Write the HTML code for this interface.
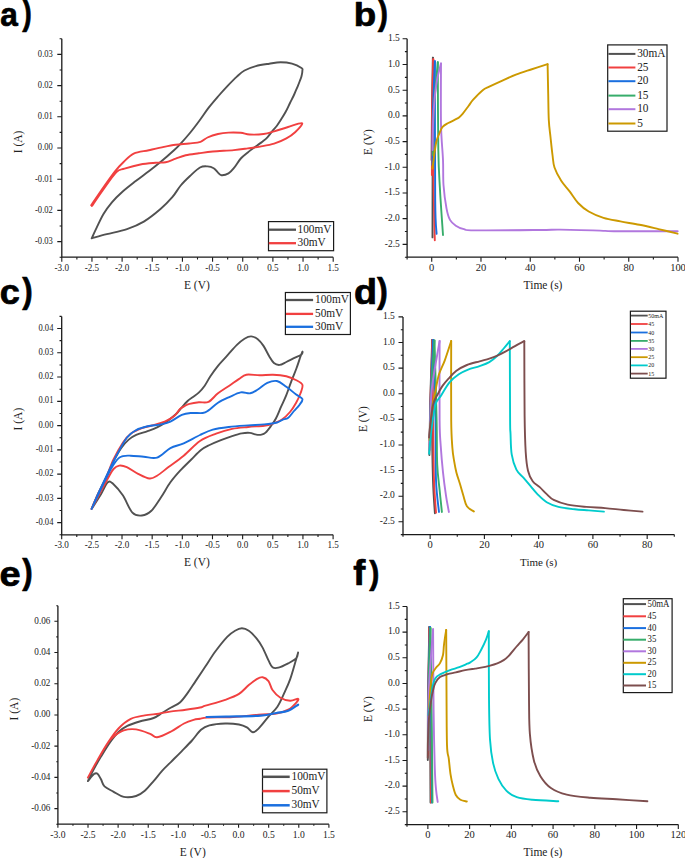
<!DOCTYPE html>
<html><head><meta charset="utf-8"><style>
html,body{margin:0;padding:0;background:#fff;width:685px;height:858px;overflow:hidden}
svg{display:block}
text{font-family:"Liberation Serif",serif;fill:#222}
.pl{font-family:"Liberation Sans",sans-serif;font-weight:bold;fill:#000;stroke:#000;stroke-width:0.7px;stroke-linejoin:round}
</style></head><body>
<svg width="685" height="858" viewBox="0 0 685 858">
<text class="pl" transform="translate(0.33 25.64) scale(0.929 1)" font-size="34">a</text>
<text class="pl" transform="translate(22.22 25.25) scale(0.819 1)" font-size="34.76">)</text>
<text class="pl" transform="translate(353.72 25.65) scale(1.093 1)" font-size="33.65">b</text>
<text class="pl" transform="translate(377.72 25.18) scale(0.883 1)" font-size="34.66">)</text>
<text class="pl" transform="translate(-0.36 304.24) scale(1.040 1)" font-size="34.73">c</text>
<text class="pl" transform="translate(22.22 303.3) scale(0.906 1)" font-size="34.55">)</text>
<text class="pl" transform="translate(353.9 303.54) scale(1.100 1)" font-size="34.33">d</text>
<text class="pl" transform="translate(377.12 302.76) scale(0.946 1)" font-size="34.23">)</text>
<text class="pl" transform="translate(-0.43 585.64) scale(1.093 1)" font-size="34.73">e</text>
<text class="pl" transform="translate(22.22 584.3) scale(0.906 1)" font-size="34.55">)</text>
<text class="pl" transform="translate(353.33 584.99) scale(1.026 1)" font-size="35.36">f</text>
<text class="pl" transform="translate(369.22 584.01) scale(0.889 1)" font-size="34.01">)</text>
<path d="M61.8,38.8V257.2H333.2" fill="none" stroke="#1a1a1a" stroke-width="1.3"/>
<path d="M61.8,257.2v4.5M76.88,257.2v2.2M91.96,257.2v4.5M107.03,257.2v2.2M122.11,257.2v4.5M137.19,257.2v2.2M152.27,257.2v4.5M167.34,257.2v2.2M182.42,257.2v4.5M197.5,257.2v2.2M212.58,257.2v4.5M227.66,257.2v2.2M242.73,257.2v4.5M257.81,257.2v2.2M272.89,257.2v4.5M287.97,257.2v2.2M303.04,257.2v4.5M318.12,257.2v2.2M333.2,257.2v4.5M61.8,257.2h-2.2M61.8,241.6h-4.5M61.8,226h-2.2M61.8,210.4h-4.5M61.8,194.8h-2.2M61.8,179.2h-4.5M61.8,163.6h-2.2M61.8,148h-4.5M61.8,132.4h-2.2M61.8,116.8h-4.5M61.8,101.2h-2.2M61.8,85.6h-4.5M61.8,70h-2.2M61.8,54.4h-4.5M61.8,38.8h-2.2" fill="none" stroke="#1a1a1a" stroke-width="1.1"/>
<text transform="translate(61.8 271) scale(0.96 1)" text-anchor="middle" font-size="9.5">-3.0</text>
<text transform="translate(91.96 271) scale(0.96 1)" text-anchor="middle" font-size="9.5">-2.5</text>
<text transform="translate(122.11 271) scale(0.96 1)" text-anchor="middle" font-size="9.5">-2.0</text>
<text transform="translate(152.27 271) scale(0.96 1)" text-anchor="middle" font-size="9.5">-1.5</text>
<text transform="translate(182.42 271) scale(0.96 1)" text-anchor="middle" font-size="9.5">-1.0</text>
<text transform="translate(212.58 271) scale(0.96 1)" text-anchor="middle" font-size="9.5">-0.5</text>
<text transform="translate(242.73 271) scale(0.96 1)" text-anchor="middle" font-size="9.5">0.0</text>
<text transform="translate(272.89 271) scale(0.96 1)" text-anchor="middle" font-size="9.5">0.5</text>
<text transform="translate(303.04 271) scale(0.96 1)" text-anchor="middle" font-size="9.5">1.0</text>
<text transform="translate(333.2 271) scale(0.96 1)" text-anchor="middle" font-size="9.5">1.5</text>
<text transform="translate(52.8 244) scale(0.9 1)" text-anchor="end" font-size="9.5">-0.03</text>
<text transform="translate(52.8 212.8) scale(0.9 1)" text-anchor="end" font-size="9.5">-0.02</text>
<text transform="translate(52.8 181.6) scale(0.9 1)" text-anchor="end" font-size="9.5">-0.01</text>
<text transform="translate(52.8 150.4) scale(0.9 1)" text-anchor="end" font-size="9.5">0.00</text>
<text transform="translate(52.8 119.2) scale(0.9 1)" text-anchor="end" font-size="9.5">0.01</text>
<text transform="translate(52.8 88) scale(0.9 1)" text-anchor="end" font-size="9.5">0.02</text>
<text transform="translate(52.8 56.8) scale(0.9 1)" text-anchor="end" font-size="9.5">0.03</text>
<text x="196.9" y="288.8" text-anchor="middle" font-size="11.5">E (V)</text>
<text transform="translate(22.3 142) rotate(-90)" text-anchor="middle" font-size="11.5">I (A)</text>
<path d="M91.7,238.3 C92.55,236.48 94.83,231.45 96.8,227.4 C98.77,223.35 100.98,218.18 103.5,214 C106.02,209.82 108.83,205.93 111.9,202.3 C114.97,198.67 117.98,195.7 121.9,192.2 C125.82,188.7 130.92,184.8 135.4,181.3 C139.88,177.8 144.62,174.42 148.8,171.2 C152.98,167.98 156.3,165.5 160.5,162 C164.7,158.5 170.75,153.15 174,150.2 C177.25,147.25 177.42,147.08 180,144.3 C182.58,141.52 186.33,137.35 189.5,133.5 C192.67,129.65 195.83,125.47 199,121.2 C202.17,116.93 205.33,112.02 208.5,107.9 C211.67,103.78 214.85,100.13 218,96.5 C221.15,92.87 224.25,89.42 227.4,86.1 C230.55,82.78 234.05,79.2 236.9,76.6 C239.75,74 241.33,72.25 244.5,70.5 C247.67,68.75 251.78,67.23 255.9,66.1 C260.02,64.97 265.08,64.33 269.2,63.7 C273.32,63.07 276.8,62.3 280.6,62.3 C284.4,62.3 288.52,62.75 292,63.7 C295.48,64.65 299.77,66.87 301.5,68 C303.23,69.13 302.4,69.12 302.4,70.5 C302.4,71.88 301.93,74.55 301.5,76.3 C301.07,78.05 300.38,79.45 299.8,81 C299.22,82.55 298.68,83.95 298,85.6 C297.32,87.25 296.45,89.17 295.7,90.9 C294.95,92.63 294.45,93.98 293.5,96 C292.55,98.02 291.3,100.37 290,103 C288.7,105.63 287.15,109.12 285.7,111.8 C284.25,114.48 282.77,116.78 281.3,119.1 C279.83,121.42 278.37,123.75 276.9,125.7 C275.43,127.65 274.08,128.87 272.5,130.8 C270.92,132.73 269.1,135.48 267.4,137.3 C265.7,139.12 264,140.35 262.3,141.7 C260.6,143.05 259.62,143.62 257.2,145.4 C254.78,147.18 250.53,150.22 247.8,152.4 C245.07,154.58 243.13,155.87 240.8,158.5 C238.47,161.13 235.85,165.72 233.8,168.2 C231.75,170.68 230.55,172.23 228.5,173.4 C226.45,174.57 223.25,175.33 221.5,175.2 C219.75,175.07 219.3,173.77 218,172.6 C216.7,171.43 215.45,169.23 213.7,168.2 C211.95,167.17 209.78,166.52 207.5,166.4 C205.22,166.28 202.92,165.9 200,167.5 C197.08,169.1 193.22,173 190,176 C186.78,179 183.65,181.97 180.7,185.5 C177.75,189.03 175.67,193.28 172.3,197.2 C168.93,201.12 165.25,204.93 160.5,209 C155.75,213.07 149.38,218.25 143.8,221.6 C138.22,224.95 133.17,227 127,229.1 C120.83,231.2 112.68,232.67 106.8,234.2 C100.92,235.73 94.22,237.62 91.7,238.3" fill="none" stroke="#515151" stroke-width="1.9" stroke-linejoin="round" stroke-linecap="round"/>
<path d="M91.2,205.3 C92.9,202.78 97.43,195.87 101.4,190.2 C105.37,184.53 111.3,176 115,171.3 C118.7,166.6 120.48,164.95 123.6,162 C126.72,159.05 129.5,155.57 133.7,153.6 C137.9,151.63 143.77,151.32 148.8,150.2 C153.83,149.08 159.42,147.8 163.9,146.9 C168.38,146 171.5,145.37 175.7,144.8 C179.9,144.23 184.97,143.98 189.1,143.5 C193.23,143.02 197.43,142.9 200.5,141.9 C203.57,140.9 204.58,138.82 207.5,137.5 C210.42,136.18 214.5,134.82 218,134 C221.5,133.18 224.7,132.8 228.5,132.6 C232.3,132.4 237.28,132.48 240.8,132.8 C244.32,133.12 245.8,134.3 249.6,134.5 C253.4,134.7 259.52,134.52 263.6,134 C267.68,133.48 270.02,132.57 274.1,131.4 C278.18,130.23 283.43,128.37 288.1,127 C292.77,125.63 300.93,122.32 302.1,123.2 C303.27,124.08 297.72,129.77 295.1,132.3 C292.48,134.83 289.9,136.5 286.4,138.4 C282.9,140.3 278.48,142.33 274.1,143.7 C269.72,145.07 264.48,145.82 260.1,146.6 C255.72,147.38 252.18,147.82 247.8,148.4 C243.42,148.98 239.63,149.58 233.8,150.1 C227.97,150.62 218.63,150.97 212.8,151.5 C206.97,152.03 203.32,152.67 198.8,153.3 C194.28,153.93 189.55,154.42 185.7,155.3 C181.85,156.18 179.05,157.43 175.7,158.6 C172.35,159.77 168.97,161.6 165.6,162.3 C162.23,163 159.7,162.43 155.5,162.8 C151.3,163.17 145.57,163.52 140.4,164.5 C135.23,165.48 128.5,167.43 124.5,168.7 C120.5,169.97 120.1,168.4 116.4,172.1 C112.7,175.8 106.38,185.25 102.3,190.9 C98.22,196.55 93.63,203.48 91.9,206" fill="none" stroke="#F14040" stroke-width="1.9" stroke-linejoin="round" stroke-linecap="round"/>
<rect x="268.5" y="221.6" width="65.1" height="29.1" fill="#fff" stroke="#1a1a1a" stroke-width="1.2"/>
<path d="M268.8,229.7H296" stroke="#515151" stroke-width="2.3"/>
<text transform="translate(297.5 232.8) scale(0.87 1)" font-size="13">100mV</text>
<path d="M268.8,243.2H296" stroke="#F14040" stroke-width="2.3"/>
<text transform="translate(297.5 246.3) scale(0.87 1)" font-size="13">30mV</text>
<path d="M407.1,38.8V257.2H678" fill="none" stroke="#1a1a1a" stroke-width="1.3"/>
<path d="M407.1,257.2v2.2M431.73,257.2v4.5M456.35,257.2v2.2M480.98,257.2v4.5M505.61,257.2v2.2M530.24,257.2v4.5M554.86,257.2v2.2M579.49,257.2v4.5M604.12,257.2v2.2M628.75,257.2v4.5M653.37,257.2v2.2M678,257.2v4.5M407.1,257.2h-2.2M407.1,244.35h-4.5M407.1,231.51h-2.2M407.1,218.66h-4.5M407.1,205.81h-2.2M407.1,192.96h-4.5M407.1,180.12h-2.2M407.1,167.27h-4.5M407.1,154.42h-2.2M407.1,141.58h-4.5M407.1,128.73h-2.2M407.1,115.88h-4.5M407.1,103.04h-2.2M407.1,90.19h-4.5M407.1,77.34h-2.2M407.1,64.49h-4.5M407.1,51.65h-2.2M407.1,38.8h-4.5" fill="none" stroke="#1a1a1a" stroke-width="1.1"/>
<text transform="translate(431.73 270.9) scale(1.05 1)" text-anchor="middle" font-size="10">0</text>
<text transform="translate(480.98 270.9) scale(1.05 1)" text-anchor="middle" font-size="10">20</text>
<text transform="translate(530.24 270.9) scale(1.05 1)" text-anchor="middle" font-size="10">40</text>
<text transform="translate(579.49 270.9) scale(1.05 1)" text-anchor="middle" font-size="10">60</text>
<text transform="translate(628.75 270.9) scale(1.05 1)" text-anchor="middle" font-size="10">80</text>
<text transform="translate(678 270.9) scale(1.05 1)" text-anchor="middle" font-size="10">100</text>
<text transform="translate(399.8 246.75) scale(0.95 1)" text-anchor="end" font-size="10">-2.5</text>
<text transform="translate(399.8 221.06) scale(0.95 1)" text-anchor="end" font-size="10">-2.0</text>
<text transform="translate(399.8 195.36) scale(0.95 1)" text-anchor="end" font-size="10">-1.5</text>
<text transform="translate(399.8 169.67) scale(0.95 1)" text-anchor="end" font-size="10">-1.0</text>
<text transform="translate(399.8 143.98) scale(0.95 1)" text-anchor="end" font-size="10">-0.5</text>
<text transform="translate(399.8 118.28) scale(0.95 1)" text-anchor="end" font-size="10">0.0</text>
<text transform="translate(399.8 92.59) scale(0.95 1)" text-anchor="end" font-size="10">0.5</text>
<text transform="translate(399.8 66.89) scale(0.95 1)" text-anchor="end" font-size="10">1.0</text>
<text transform="translate(399.8 41.2) scale(0.95 1)" text-anchor="end" font-size="10">1.5</text>
<text x="543" y="288.6" text-anchor="middle" font-size="11.5">Time (s)</text>
<text transform="translate(372.3 142) rotate(-90)" text-anchor="middle" font-size="11.5">E (V)</text>
<path d="M431.6,160 C431.67,151.67 431.78,127.07 432,110 C432.22,92.93 432.75,66.33 432.9,57.6" fill="none" stroke="#515151" stroke-width="1.9" stroke-linejoin="round" stroke-linecap="round"/>
<path d="M432.9,57.6 C432.85,76.33 432.67,140.03 432.6,170 C432.53,199.97 432.52,226.17 432.5,237.4" fill="none" stroke="#515151" stroke-width="1.9" stroke-linejoin="round" stroke-linecap="round"/>
<path d="M431.9,175 C431.93,164.17 431.87,129.32 432.1,110 C432.33,90.68 433.1,67.58 433.3,59.1" fill="none" stroke="#F14040" stroke-width="1.9" stroke-linejoin="round" stroke-linecap="round"/>
<path d="M433.3,59.1 C433.32,77.58 433.15,139.8 433.4,170 C433.65,200.2 434.57,228.58 434.8,240.3" fill="none" stroke="#F14040" stroke-width="1.9" stroke-linejoin="round" stroke-linecap="round"/>
<path d="M432.4,165 C432.5,155.83 432.58,127.32 433,110 C433.42,92.68 434.58,69.25 434.9,61.1" fill="none" stroke="#1A6FDF" stroke-width="1.9" stroke-linejoin="round" stroke-linecap="round"/>
<path d="M434.9,61.1 C434.95,84.25 434.92,171.2 435.2,200 C435.48,228.8 436.37,228.25 436.6,233.9" fill="none" stroke="#1A6FDF" stroke-width="1.9" stroke-linejoin="round" stroke-linecap="round"/>
<path d="M432.8,155 C432.97,147.5 432.97,125.45 433.8,110 C434.63,94.55 437.13,70.25 437.8,62.3" fill="none" stroke="#37AD6B" stroke-width="1.9" stroke-linejoin="round" stroke-linecap="round"/>
<path d="M437.8,62.3 C437.88,76.92 437.93,128.72 438.3,150 C438.67,171.28 439.22,175.83 440,190 C440.78,204.17 442.5,227.5 443,235" fill="none" stroke="#37AD6B" stroke-width="1.9" stroke-linejoin="round" stroke-linecap="round"/>
<path d="M432.6,150 C432.7,145 432.88,128.33 433.2,120 C433.52,111.67 433.87,106.67 434.5,100 C435.13,93.33 435.92,86.08 437,80 C438.08,73.92 440.33,66.25 441,63.5" fill="none" stroke="#B177DE" stroke-width="1.9" stroke-linejoin="round" stroke-linecap="round"/>
<path d="M441,63.5 C441,73.65 440.67,108.32 441,124.4 C441.33,140.48 442.58,149.9 443,160 C443.42,170.1 442.92,176.95 443.5,185 C444.08,193.05 445.42,202.48 446.5,208.3 C447.58,214.12 448.45,217 450,219.9 C451.55,222.8 453.48,224.15 455.8,225.7 C458.12,227.25 460.7,228.42 463.9,229.2 C467.1,229.98 462.32,230.27 475,230.4 C487.68,230.53 525.83,230.13 540,230 C554.17,229.87 550,229.5 560,229.6 C570,229.7 591,230.33 600,230.6 C609,230.87 601.05,231.1 614,231.2 C626.95,231.3 667.08,231.2 677.7,231.2" fill="none" stroke="#B177DE" stroke-width="1.9" stroke-linejoin="round" stroke-linecap="round"/>
<path d="M432.5,168.6 C432.68,167.17 432.98,164.38 433.6,160 C434.22,155.62 435.23,146.75 436.2,142.3 C437.17,137.85 438.33,135.87 439.4,133.3 C440.47,130.73 441.12,128.62 442.6,126.9 C444.08,125.18 446.07,124.28 448.3,123 C450.53,121.72 454.22,120.13 456,119.2 C457.78,118.27 457.87,118.33 459,117.4 C460.13,116.47 461.22,115.5 462.8,113.6 C464.38,111.7 466.77,108.32 468.5,106 C470.23,103.68 470.83,102.33 473.2,99.7 C475.57,97.07 480.02,92.38 482.7,90.2 C485.38,88.02 486.3,88.08 489.3,86.6 C492.3,85.12 496.27,83.28 500.7,81.3 C505.13,79.32 510.83,76.67 515.9,74.7 C520.97,72.73 525.82,71.25 531.1,69.5 C536.38,67.75 544.85,65.08 547.6,64.2" fill="none" stroke="#CC9900" stroke-width="1.9" stroke-linejoin="round" stroke-linecap="round"/>
<path d="M547.6,64.2 C547.7,69.12 548,84.4 548.2,93.7 C548.4,103 548.42,112.78 548.8,120 C549.18,127.22 549.88,131.17 550.5,137 C551.12,142.83 551.83,149.92 552.5,155 C553.17,160.08 553.05,163.2 554.5,167.5 C555.95,171.8 558.68,176.82 561.2,180.8 C563.72,184.78 566.78,187.7 569.6,191.4 C572.42,195.1 574.92,199.65 578.1,203 C581.28,206.35 584.47,209.03 588.7,211.5 C592.93,213.97 598.22,216.15 603.5,217.8 C608.78,219.45 614.4,220.23 620.4,221.4 C626.4,222.57 633.15,223.52 639.5,224.8 C645.85,226.08 652.15,227.62 658.5,229.1 C664.85,230.58 674.42,232.93 677.6,233.7" fill="none" stroke="#CC9900" stroke-width="1.9" stroke-linejoin="round" stroke-linecap="round"/>
<rect x="607.7" y="44.9" width="59.3" height="86.3" fill="#fff" stroke="#1a1a1a" stroke-width="1.2"/>
<path d="M608.4,53.9H635.4" stroke="#515151" stroke-width="2"/>
<text transform="translate(637.2 57.1) scale(0.87 1)" font-size="13">30mA</text>
<path d="M608.4,67.5H635.4" stroke="#F14040" stroke-width="2"/>
<text transform="translate(637.2 70.7) scale(0.87 1)" font-size="13">25</text>
<path d="M608.4,81.2H635.4" stroke="#1A6FDF" stroke-width="2"/>
<text transform="translate(637.2 84.4) scale(0.87 1)" font-size="13">20</text>
<path d="M608.4,95.6H635.4" stroke="#37AD6B" stroke-width="2"/>
<text transform="translate(637.2 98.8) scale(0.87 1)" font-size="13">15</text>
<path d="M608.4,109.2H635.4" stroke="#B177DE" stroke-width="2"/>
<text transform="translate(637.2 112.4) scale(0.87 1)" font-size="13">10</text>
<path d="M608.4,123.5H635.4" stroke="#CC9900" stroke-width="2"/>
<text transform="translate(637.2 126.7) scale(0.87 1)" font-size="13">5</text>
<path d="M61.7,316.4V534.8H333.1" fill="none" stroke="#1a1a1a" stroke-width="1.3"/>
<path d="M61.7,534.8v4.5M76.78,534.8v2.2M91.86,534.8v4.5M106.93,534.8v2.2M122.01,534.8v4.5M137.09,534.8v2.2M152.17,534.8v4.5M167.24,534.8v2.2M182.32,534.8v4.5M197.4,534.8v2.2M212.48,534.8v4.5M227.56,534.8v2.2M242.63,534.8v4.5M257.71,534.8v2.2M272.79,534.8v4.5M287.87,534.8v2.2M302.94,534.8v4.5M318.02,534.8v2.2M333.1,534.8v4.5M61.7,534.8h-2.2M61.7,522.67h-4.5M61.7,510.53h-2.2M61.7,498.4h-4.5M61.7,486.27h-2.2M61.7,474.13h-4.5M61.7,462h-2.2M61.7,449.87h-4.5M61.7,437.73h-2.2M61.7,425.6h-4.5M61.7,413.47h-2.2M61.7,401.33h-4.5M61.7,389.2h-2.2M61.7,377.07h-4.5M61.7,364.93h-2.2M61.7,352.8h-4.5M61.7,340.67h-2.2M61.7,328.53h-4.5M61.7,316.4h-2.2" fill="none" stroke="#1a1a1a" stroke-width="1.1"/>
<text transform="translate(61.7 548.3) scale(0.96 1)" text-anchor="middle" font-size="9.5">-3.0</text>
<text transform="translate(91.86 548.3) scale(0.96 1)" text-anchor="middle" font-size="9.5">-2.5</text>
<text transform="translate(122.01 548.3) scale(0.96 1)" text-anchor="middle" font-size="9.5">-2.0</text>
<text transform="translate(152.17 548.3) scale(0.96 1)" text-anchor="middle" font-size="9.5">-1.5</text>
<text transform="translate(182.32 548.3) scale(0.96 1)" text-anchor="middle" font-size="9.5">-1.0</text>
<text transform="translate(212.48 548.3) scale(0.96 1)" text-anchor="middle" font-size="9.5">-0.5</text>
<text transform="translate(242.63 548.3) scale(0.96 1)" text-anchor="middle" font-size="9.5">0.0</text>
<text transform="translate(272.79 548.3) scale(0.96 1)" text-anchor="middle" font-size="9.5">0.5</text>
<text transform="translate(302.94 548.3) scale(0.96 1)" text-anchor="middle" font-size="9.5">1.0</text>
<text transform="translate(333.1 548.3) scale(0.96 1)" text-anchor="middle" font-size="9.5">1.5</text>
<text transform="translate(53.4 524.77) scale(0.9 1)" text-anchor="end" font-size="9.5">-0.04</text>
<text transform="translate(53.4 500.5) scale(0.9 1)" text-anchor="end" font-size="9.5">-0.03</text>
<text transform="translate(53.4 476.23) scale(0.9 1)" text-anchor="end" font-size="9.5">-0.02</text>
<text transform="translate(53.4 451.97) scale(0.9 1)" text-anchor="end" font-size="9.5">-0.01</text>
<text transform="translate(53.4 427.7) scale(0.9 1)" text-anchor="end" font-size="9.5">0.00</text>
<text transform="translate(53.4 403.43) scale(0.9 1)" text-anchor="end" font-size="9.5">0.01</text>
<text transform="translate(53.4 379.17) scale(0.9 1)" text-anchor="end" font-size="9.5">0.02</text>
<text transform="translate(53.4 354.9) scale(0.9 1)" text-anchor="end" font-size="9.5">0.03</text>
<text transform="translate(53.4 330.63) scale(0.9 1)" text-anchor="end" font-size="9.5">0.04</text>
<text x="196.9" y="566" text-anchor="middle" font-size="11.5">E (V)</text>
<text transform="translate(22 419.1) rotate(-90)" text-anchor="middle" font-size="11.5">I (A)</text>
<path d="M91.6,508.9 C92.72,506.37 95.92,498.77 98.3,493.7 C100.68,488.63 103.37,483.88 105.9,478.5 C108.43,473.12 110.97,466.47 113.5,461.4 C116.03,456.33 118.57,451.73 121.1,448.1 C123.63,444.47 126.18,441.8 128.7,439.6 C131.22,437.4 133.05,436.32 136.2,434.9 C139.35,433.48 144.12,432.37 147.6,431.1 C151.08,429.83 153.93,428.88 157.1,427.3 C160.27,425.72 163.43,423.82 166.6,421.6 C169.77,419.38 173.87,416.02 176.1,414 C178.33,411.98 178.08,411.67 180,409.5 C181.92,407.33 185.43,403.08 187.6,401 C189.77,398.92 191.1,398.43 193,397 C194.9,395.57 197.05,394.28 199,392.4 C200.95,390.52 202.8,388.4 204.7,385.7 C206.6,383 208.18,379.52 210.4,376.2 C212.62,372.88 215.17,369.27 218,365.8 C220.83,362.33 224.25,358.88 227.4,355.4 C230.55,351.92 234.05,347.68 236.9,344.9 C239.75,342.12 242.12,340.12 244.5,338.7 C246.88,337.28 248.98,336.32 251.2,336.4 C253.42,336.48 255.75,337.62 257.8,339.2 C259.85,340.78 261.6,343.05 263.5,345.9 C265.4,348.75 267.47,353.45 269.2,356.3 C270.93,359.15 272.17,361.57 273.9,363 C275.63,364.43 277.53,365.07 279.6,364.9 C281.67,364.73 283.92,363.12 286.3,362 C288.68,360.88 291.37,359.47 293.9,358.2 C296.43,356.93 300.08,355.5 301.5,354.4 C302.92,353.3 302.57,351.25 302.4,351.6 C302.23,351.95 301.5,353.68 300.5,356.5 C299.5,359.32 297.93,364.37 296.4,368.5 C294.87,372.63 293,376.82 291.3,381.3 C289.6,385.78 287.92,391.13 286.2,395.4 C284.48,399.67 282.72,403.05 281,406.9 C279.28,410.75 277.6,415.28 275.9,418.5 C274.2,421.72 272.52,423.85 270.8,426.2 C269.08,428.55 267.15,431.2 265.6,432.6 C264.05,434 263.07,434.27 261.5,434.6 C259.93,434.93 258.15,434.88 256.2,434.6 C254.25,434.32 252.2,433.1 249.8,432.9 C247.4,432.7 244.75,432.87 241.8,433.4 C238.85,433.93 235.58,434.98 232.1,436.1 C228.62,437.22 224.65,438.62 220.9,440.1 C217.15,441.58 212.92,443.35 209.6,445 C206.28,446.65 204.05,447.58 201,450 C197.95,452.42 194.82,456.02 191.3,459.5 C187.78,462.98 183.38,467.1 179.9,470.9 C176.42,474.7 173.57,477.87 170.4,482.3 C167.23,486.73 164.07,492.75 160.9,497.5 C157.73,502.25 154.57,507.8 151.4,510.8 C148.23,513.8 145.07,515.18 141.9,515.5 C138.73,515.82 135.55,516.02 132.4,512.7 C129.25,509.38 126.15,500.35 123,495.6 C119.85,490.85 116.03,486.42 113.5,484.2 C110.97,481.98 110.02,480.4 107.8,482.3 C105.58,484.2 102.9,491.17 100.2,495.6 C97.5,500.03 93.03,506.68 91.6,508.9" fill="none" stroke="#515151" stroke-width="1.9" stroke-linejoin="round" stroke-linecap="round"/>
<path d="M91.6,508.9 C92.67,506.42 95.6,499.15 98,494 C100.4,488.85 103.42,483.75 106,478 C108.58,472.25 110.67,465.43 113.5,459.5 C116.33,453.57 120.17,446.67 123,442.4 C125.83,438.13 127.33,436.27 130.5,433.9 C133.67,431.53 138.42,429.6 142,428.2 C145.58,426.8 148.22,426.6 152,425.5 C155.78,424.4 161,423.18 164.7,421.6 C168.4,420.02 171.65,418.1 174.2,416 C176.75,413.9 178.1,410.75 180,409 C181.9,407.25 184.02,406.37 185.6,405.5 C187.18,404.63 187.28,404.33 189.5,403.8 C191.72,403.27 195.73,402.62 198.9,402.3 C202.07,401.98 205.32,403.4 208.5,401.9 C211.68,400.4 214.53,396 218,393.3 C221.47,390.6 225.83,388.07 229.3,385.7 C232.77,383.33 235.95,380.93 238.8,379.1 C241.65,377.27 242.92,375.33 246.4,374.7 C249.88,374.07 255.27,375.3 259.7,375.3 C264.13,375.3 268.57,374.55 273,374.7 C277.43,374.85 282.5,375.32 286.3,376.2 C290.1,377.08 293.12,378.57 295.8,380 C298.48,381.43 301.62,382.58 302.4,384.8 C303.18,387.02 301.57,390.27 300.5,393.3 C299.43,396.33 297.75,399.88 296,403 C294.25,406.12 292.33,409.25 290,412 C287.67,414.75 284.95,417.53 282,419.5 C279.05,421.47 275.27,422.77 272.3,423.8 C269.33,424.83 268.22,425.17 264.2,425.7 C260.18,426.23 253.55,426.47 248.2,427 C242.85,427.53 237.45,427.78 232.1,428.9 C226.75,430.02 221.45,431.68 216.1,433.7 C210.75,435.72 205.4,437.33 200,441 C194.6,444.67 188.95,451.35 183.7,455.7 C178.45,460.05 172.93,463.77 168.5,467.1 C164.07,470.43 160.27,473.8 157.1,475.7 C153.93,477.6 152.67,478.82 149.5,478.5 C146.33,478.18 141.88,475.7 138.1,473.8 C134.32,471.9 129.95,468.47 126.8,467.1 C123.65,465.73 121.42,465.28 119.2,465.6 C116.98,465.92 115.4,466.85 113.5,469 C111.6,471.15 111.45,471.85 107.8,478.5 C104.15,485.15 94.3,503.83 91.6,508.9" fill="none" stroke="#F14040" stroke-width="1.9" stroke-linejoin="round" stroke-linecap="round"/>
<path d="M91.6,508.9 C92.75,506.25 96.02,498.48 98.5,493 C100.98,487.52 103.68,481.9 106.5,476 C109.32,470.1 112.02,463.98 115.4,457.6 C118.78,451.22 123.33,442.28 126.8,437.7 C130.27,433.12 132.73,432 136.2,430.1 C139.67,428.2 143.48,427.25 147.6,426.3 C151.72,425.35 157.1,425.18 160.9,424.4 C164.7,423.62 166.92,423.18 170.4,421.6 C173.88,420.02 178.32,416.33 181.8,414.9 C185.28,413.47 187.82,413.32 191.3,413 C194.78,412.68 199.83,413.43 202.7,413 C205.57,412.57 205.95,412.1 208.5,410.4 C211.05,408.7 214.53,405.02 218,402.8 C221.47,400.58 225.52,398.83 229.3,397.1 C233.08,395.37 237.22,393.03 240.7,392.4 C244.18,391.77 247.35,393.78 250.2,393.3 C253.05,392.82 254.95,391.23 257.8,389.5 C260.65,387.77 264.13,384.32 267.3,382.9 C270.47,381.48 273.63,380.37 276.8,381 C279.97,381.63 283.13,384.48 286.3,386.7 C289.47,388.92 293.12,392.25 295.8,394.3 C298.48,396.35 301.77,397.27 302.4,399 C303.03,400.73 301,402.7 299.6,404.7 C298.2,406.7 295.88,408.83 294,411 C292.12,413.17 290.22,416.23 288.3,417.7 C286.38,419.17 284.37,419 282.5,419.8 C280.63,420.6 280.15,421.73 277.1,422.5 C274.05,423.27 269.02,423.92 264.2,424.4 C259.38,424.88 254.08,424.97 248.2,425.4 C242.32,425.83 234.8,426.28 228.9,427 C223,427.72 217.62,428.37 212.8,429.7 C207.98,431.03 204.85,432.72 200,435 C195.15,437.28 188.63,441.22 183.7,443.4 C178.77,445.58 174.83,445.73 170.4,448.1 C165.97,450.47 161.53,456.17 157.1,457.6 C152.67,459.03 148.23,457.02 143.8,456.7 C139.37,456.38 133.97,455.8 130.5,455.7 C127.03,455.6 125.2,455.47 123,456.1 C120.8,456.73 119.83,456.4 117.3,459.5 C114.77,462.6 112.08,466.47 107.8,474.7 C103.52,482.93 94.3,503.2 91.6,508.9" fill="none" stroke="#1A6FDF" stroke-width="1.9" stroke-linejoin="round" stroke-linecap="round"/>
<rect x="285.4" y="292.5" width="65" height="42" fill="#fff" stroke="#1a1a1a" stroke-width="1.2"/>
<path d="M286,300H313.1" stroke="#515151" stroke-width="2.3"/>
<text transform="translate(315 303.1) scale(0.87 1)" font-size="13">100mV</text>
<path d="M286,313.9H313.1" stroke="#F14040" stroke-width="2.3"/>
<text transform="translate(315 317) scale(0.87 1)" font-size="13">50mV</text>
<path d="M286,326.8H313.1" stroke="#1A6FDF" stroke-width="2.3"/>
<text transform="translate(315 329.9) scale(0.87 1)" font-size="13">30mV</text>
<path d="M403,316.9V534.6H674.3" fill="none" stroke="#1a1a1a" stroke-width="1.3"/>
<path d="M403,534.6v2.2M430.13,534.6v4.5M457.26,534.6v2.2M484.39,534.6v4.5M511.52,534.6v2.2M538.65,534.6v4.5M565.78,534.6v2.2M592.91,534.6v4.5M620.04,534.6v2.2M647.17,534.6v4.5M674.3,534.6v2.2M403,534.6h-2.2M403,521.79h-4.5M403,508.99h-2.2M403,496.18h-4.5M403,483.38h-2.2M403,470.57h-4.5M403,457.76h-2.2M403,444.96h-4.5M403,432.15h-2.2M403,419.35h-4.5M403,406.54h-2.2M403,393.74h-4.5M403,380.93h-2.2M403,368.12h-4.5M403,355.32h-2.2M403,342.51h-4.5M403,329.71h-2.2M403,316.9h-4.5" fill="none" stroke="#1a1a1a" stroke-width="1.1"/>
<text transform="translate(430.13 548.2) scale(1.05 1)" text-anchor="middle" font-size="10">0</text>
<text transform="translate(484.39 548.2) scale(1.05 1)" text-anchor="middle" font-size="10">20</text>
<text transform="translate(538.65 548.2) scale(1.05 1)" text-anchor="middle" font-size="10">40</text>
<text transform="translate(592.91 548.2) scale(1.05 1)" text-anchor="middle" font-size="10">60</text>
<text transform="translate(647.17 548.2) scale(1.05 1)" text-anchor="middle" font-size="10">80</text>
<text transform="translate(394.8 523.89) scale(0.95 1)" text-anchor="end" font-size="10">-2.5</text>
<text transform="translate(394.8 498.28) scale(0.95 1)" text-anchor="end" font-size="10">-2.0</text>
<text transform="translate(394.8 472.67) scale(0.95 1)" text-anchor="end" font-size="10">-1.5</text>
<text transform="translate(394.8 447.06) scale(0.95 1)" text-anchor="end" font-size="10">-1.0</text>
<text transform="translate(394.8 421.45) scale(0.95 1)" text-anchor="end" font-size="10">-0.5</text>
<text transform="translate(394.8 395.84) scale(0.95 1)" text-anchor="end" font-size="10">0.0</text>
<text transform="translate(394.8 370.22) scale(0.95 1)" text-anchor="end" font-size="10">0.5</text>
<text transform="translate(394.8 344.61) scale(0.95 1)" text-anchor="end" font-size="10">1.0</text>
<text transform="translate(394.8 319) scale(0.95 1)" text-anchor="end" font-size="10">1.5</text>
<text x="538.7" y="565.5" text-anchor="middle" font-size="11">Time (s)</text>
<text transform="translate(366.9 419.1) rotate(-90)" text-anchor="middle" font-size="11.5">E (V)</text>
<path d="M429.4,455 C429.55,445.83 429.83,419.18 430.3,400 C430.77,380.82 431.88,349.92 432.2,339.9" fill="none" stroke="#515151" stroke-width="1.9" stroke-linejoin="round" stroke-linecap="round"/>
<path d="M432.2,339.9 C432.17,353.25 431.87,396.65 432,420 C432.13,443.35 432.52,464.47 433,480 C433.48,495.53 434.58,507.67 434.9,513.2" fill="none" stroke="#515151" stroke-width="1.9" stroke-linejoin="round" stroke-linecap="round"/>
<path d="M429.6,450 C429.77,440.83 430.1,413.33 430.6,395 C431.1,376.67 432.27,349.17 432.6,340" fill="none" stroke="#F14040" stroke-width="1.9" stroke-linejoin="round" stroke-linecap="round"/>
<path d="M432.6,340 C432.68,353.33 432.87,396.67 433.1,420 C433.33,443.33 433.52,464.57 434,480 C434.48,495.43 435.67,507.17 436,512.6" fill="none" stroke="#F14040" stroke-width="1.9" stroke-linejoin="round" stroke-linecap="round"/>
<path d="M429.8,445 C430,435.83 430.43,407.5 431,390 C431.57,372.5 432.83,348.33 433.2,340" fill="none" stroke="#1A6FDF" stroke-width="1.9" stroke-linejoin="round" stroke-linecap="round"/>
<path d="M433.2,340 C433.58,353.33 435.03,396.67 435.5,420 C435.97,443.33 435.42,464.67 436,480 C436.58,495.33 438.5,506.67 439,512" fill="none" stroke="#1A6FDF" stroke-width="1.9" stroke-linejoin="round" stroke-linecap="round"/>
<path d="M430,440 C430.25,430.83 430.75,401.58 431.5,385 C432.25,368.42 434,347.92 434.5,340.5" fill="none" stroke="#37AD6B" stroke-width="1.9" stroke-linejoin="round" stroke-linecap="round"/>
<path d="M434.5,340.5 C434.85,353.75 436.15,399.37 436.6,420 C437.05,440.63 436.7,452.65 437.2,464.3 C437.7,475.95 438.82,481.95 439.6,489.9 C440.38,497.85 441.52,508.32 441.9,512" fill="none" stroke="#37AD6B" stroke-width="1.9" stroke-linejoin="round" stroke-linecap="round"/>
<path d="M429.5,450 C429.75,441.67 430.42,411.67 431,400 C431.58,388.33 431.57,389.83 433,380 C434.43,370.17 438.5,347.5 439.6,341" fill="none" stroke="#B177DE" stroke-width="1.9" stroke-linejoin="round" stroke-linecap="round"/>
<path d="M439.6,341 C439.6,354.17 439.42,402.57 439.6,420 C439.78,437.43 440.13,436.87 440.7,445.6 C441.27,454.33 442.12,464.05 443,472.4 C443.88,480.75 445.02,489.1 446,495.7 C446.98,502.3 448.42,509.28 448.9,512" fill="none" stroke="#B177DE" stroke-width="1.9" stroke-linejoin="round" stroke-linecap="round"/>
<path d="M429.5,440 C429.92,434.87 431,417.43 432,409.2 C433,400.97 434.33,396.42 435.5,390.6 C436.67,384.78 437.45,379.35 439,374.3 C440.55,369.25 442.77,365.85 444.8,360.3 C446.83,354.75 450.13,344.22 451.2,341" fill="none" stroke="#CC9900" stroke-width="1.9" stroke-linejoin="round" stroke-linecap="round"/>
<path d="M451.2,341 C451.2,354.17 451,402.17 451.2,420 C451.4,437.83 451.92,441.2 452.4,448 C452.88,454.8 453.43,456.73 454.1,460.8 C454.77,464.87 455.42,468.52 456.4,472.4 C457.38,476.28 458.83,480.22 460,484.1 C461.17,487.98 462.25,492.02 463.4,495.7 C464.55,499.38 465.15,503.57 466.9,506.2 C468.65,508.83 472.73,510.62 473.9,511.5" fill="none" stroke="#CC9900" stroke-width="1.9" stroke-linejoin="round" stroke-linecap="round"/>
<path d="M429.1,453.8 C429.48,449.83 430.33,438.2 431.4,430 C432.47,421.8 433.85,410.4 435.5,404.6 C437.15,398.8 438.97,398.9 441.3,395.2 C443.63,391.5 446.58,385.88 449.5,382.4 C452.42,378.92 455.7,376.43 458.8,374.3 C461.9,372.17 464.63,370.97 468.1,369.6 C471.57,368.23 476.07,367.35 479.6,366.1 C483.13,364.85 486.35,363.83 489.3,362.1 C492.25,360.37 494.9,357.97 497.3,355.7 C499.7,353.43 501.62,350.92 503.7,348.5 C505.78,346.08 508.78,342.42 509.8,341.2" fill="none" stroke="#00CBCC" stroke-width="1.9" stroke-linejoin="round" stroke-linecap="round"/>
<path d="M509.8,341.2 C509.85,354.33 509.98,404.63 510.1,420 C510.22,435.37 510.23,427.67 510.5,433.4 C510.77,439.13 510.72,448.37 511.7,454.4 C512.68,460.43 514.45,465.72 516.4,469.6 C518.35,473.48 521.07,474.98 523.4,477.7 C525.73,480.42 528.07,483.17 530.4,485.9 C532.73,488.63 534.68,491.37 537.4,494.1 C540.12,496.83 543.2,500.17 546.7,502.3 C550.2,504.43 553.73,505.73 558.4,506.9 C563.07,508.07 569.63,508.72 574.7,509.3 C579.77,509.88 583.93,510.02 588.8,510.4 C593.67,510.78 601.38,511.4 603.9,511.6" fill="none" stroke="#00CBCC" stroke-width="1.9" stroke-linejoin="round" stroke-linecap="round"/>
<path d="M429.1,437.5 C429.2,436.25 429.03,435.48 429.7,430 C430.37,424.52 431.75,410.58 433.1,404.6 C434.45,398.62 436.23,397.22 437.8,394.1 C439.37,390.98 440.75,388.43 442.5,385.9 C444.25,383.37 445.98,381.42 448.3,378.9 C450.62,376.38 453.3,373.12 456.4,370.8 C459.5,368.48 463.03,366.58 466.9,365 C470.77,363.42 475.87,362.37 479.6,361.3 C483.33,360.23 486.35,359.53 489.3,358.6 C492.25,357.67 494.63,356.85 497.3,355.7 C499.97,354.55 502.35,353.3 505.3,351.7 C508.25,350.1 511.83,347.85 515,346.1 C518.17,344.35 522.75,342.02 524.3,341.2" fill="none" stroke="#7D4E4E" stroke-width="1.9" stroke-linejoin="round" stroke-linecap="round"/>
<path d="M524.3,341.2 C524.35,353.52 524.37,396.63 524.6,415.1 C524.83,433.57 525.13,442.73 525.7,452 C526.27,461.27 526.83,465.83 528,470.7 C529.17,475.57 530.75,478.47 532.7,481.2 C534.65,483.93 537.37,484.95 539.7,487.1 C542.03,489.25 544.37,491.97 546.7,494.1 C549.03,496.23 550.2,498.15 553.7,499.9 C557.2,501.65 562.25,503.43 567.7,504.6 C573.15,505.77 580.17,506.32 586.4,506.9 C592.63,507.48 598.87,507.58 605.1,508.1 C611.33,508.62 617.57,509.42 623.8,510 C630.03,510.58 639.38,511.33 642.5,511.6" fill="none" stroke="#7D4E4E" stroke-width="1.9" stroke-linejoin="round" stroke-linecap="round"/>
<rect x="630.4" y="311.2" width="35.6" height="67" fill="#fff" stroke="#1a1a1a" stroke-width="1.2"/>
<path d="M630.9,315.6H647.7" stroke="#515151" stroke-width="1.8"/>
<text x="648.3" y="317.64" font-size="6">50mA</text>
<path d="M630.9,324H647.7" stroke="#F14040" stroke-width="1.8"/>
<text x="648.3" y="326.04" font-size="6">45</text>
<path d="M630.9,332.5H647.7" stroke="#1A6FDF" stroke-width="1.8"/>
<text x="648.3" y="334.54" font-size="6">40</text>
<path d="M630.9,340.9H647.7" stroke="#37AD6B" stroke-width="1.8"/>
<text x="648.3" y="342.94" font-size="6">35</text>
<path d="M630.9,348.9H647.7" stroke="#B177DE" stroke-width="1.8"/>
<text x="648.3" y="350.94" font-size="6">30</text>
<path d="M630.9,357.2H647.7" stroke="#CC9900" stroke-width="1.8"/>
<text x="648.3" y="359.24" font-size="6">25</text>
<path d="M630.9,365.4H647.7" stroke="#00CBCC" stroke-width="1.8"/>
<text x="648.3" y="367.44" font-size="6">20</text>
<path d="M630.9,373.6H647.7" stroke="#7D4E4E" stroke-width="1.8"/>
<text x="648.3" y="375.64" font-size="6">15</text>
<path d="M57.9,605.7V824.2H328.9" fill="none" stroke="#1a1a1a" stroke-width="1.3"/>
<path d="M57.9,824.2v3.5M72.96,824.2v1.6M88.01,824.2v3.5M103.07,824.2v1.6M118.12,824.2v3.5M133.18,824.2v1.6M148.23,824.2v3.5M163.29,824.2v1.6M178.34,824.2v3.5M193.4,824.2v1.6M208.46,824.2v3.5M223.51,824.2v1.6M238.57,824.2v3.5M253.62,824.2v1.6M268.68,824.2v3.5M283.73,824.2v1.6M298.79,824.2v3.5M313.84,824.2v1.6M328.9,824.2v3.5M57.9,824.2h-1.6M57.9,808.59h-3.5M57.9,792.99h-1.6M57.9,777.38h-3.5M57.9,761.77h-1.6M57.9,746.16h-3.5M57.9,730.56h-1.6M57.9,714.95h-3.5M57.9,699.34h-1.6M57.9,683.74h-3.5M57.9,668.13h-1.6M57.9,652.52h-3.5M57.9,636.91h-1.6M57.9,621.31h-3.5M57.9,605.7h-1.6" fill="none" stroke="#1a1a1a" stroke-width="1.1"/>
<text transform="translate(57.9 838) scale(0.96 1)" text-anchor="middle" font-size="10">-3.0</text>
<text transform="translate(88.01 838) scale(0.96 1)" text-anchor="middle" font-size="10">-2.5</text>
<text transform="translate(118.12 838) scale(0.96 1)" text-anchor="middle" font-size="10">-2.0</text>
<text transform="translate(148.23 838) scale(0.96 1)" text-anchor="middle" font-size="10">-1.5</text>
<text transform="translate(178.34 838) scale(0.96 1)" text-anchor="middle" font-size="10">-1.0</text>
<text transform="translate(208.46 838) scale(0.96 1)" text-anchor="middle" font-size="10">-0.5</text>
<text transform="translate(238.57 838) scale(0.96 1)" text-anchor="middle" font-size="10">0.0</text>
<text transform="translate(268.68 838) scale(0.96 1)" text-anchor="middle" font-size="10">0.5</text>
<text transform="translate(298.79 838) scale(0.96 1)" text-anchor="middle" font-size="10">1.0</text>
<text transform="translate(328.9 838) scale(0.96 1)" text-anchor="middle" font-size="10">1.5</text>
<text transform="translate(50.4 811.09) scale(0.92 1)" text-anchor="end" font-size="10">-0.06</text>
<text transform="translate(50.4 779.88) scale(0.92 1)" text-anchor="end" font-size="10">-0.04</text>
<text transform="translate(50.4 748.66) scale(0.92 1)" text-anchor="end" font-size="10">-0.02</text>
<text transform="translate(50.4 717.45) scale(0.92 1)" text-anchor="end" font-size="10">0.00</text>
<text transform="translate(50.4 686.24) scale(0.92 1)" text-anchor="end" font-size="10">0.02</text>
<text transform="translate(50.4 655.02) scale(0.92 1)" text-anchor="end" font-size="10">0.04</text>
<text transform="translate(50.4 623.81) scale(0.92 1)" text-anchor="end" font-size="10">0.06</text>
<text x="192.8" y="855.6" text-anchor="middle" font-size="11.5">E (V)</text>
<text transform="translate(18 709.1) rotate(-90)" text-anchor="middle" font-size="11.5">I (A)</text>
<path d="M87.9,781.1 C88.92,779.05 91.82,772.88 94,768.8 C96.18,764.72 98.37,760.97 101,756.6 C103.63,752.23 106.88,746.7 109.8,742.6 C112.72,738.5 115.58,734.78 118.5,732 C121.42,729.22 123.78,727.65 127.3,725.9 C130.82,724.15 135.22,722.82 139.6,721.5 C143.98,720.18 149.82,719.45 153.6,718 C157.38,716.55 159.38,714.55 162.3,712.8 C165.22,711.05 168.17,709.22 171.1,707.5 C174.03,705.78 177.13,704.93 179.9,702.5 C182.67,700.07 185.08,696.47 187.7,692.9 C190.32,689.33 192.63,685.53 195.6,681.1 C198.57,676.67 202.22,671.23 205.5,666.3 C208.78,661.37 211.68,656.42 215.3,651.5 C218.92,646.58 223.92,640.25 227.2,636.8 C230.48,633.35 232.55,632.22 235,630.8 C237.45,629.38 239.6,628.3 241.9,628.3 C244.2,628.3 246.33,629.07 248.8,630.8 C251.27,632.53 254.4,635.9 256.7,638.7 C259,641.5 260.63,643.98 262.6,647.6 C264.57,651.22 266.85,657.12 268.5,660.4 C270.15,663.68 270.85,666.08 272.5,667.3 C274.15,668.52 275.78,668.35 278.4,667.7 C281.02,667.05 285.25,664.95 288.2,663.4 C291.15,661.85 294.45,660.22 296.1,658.4 C297.75,656.58 298.1,652.33 298.1,652.5 C298.1,652.67 297.42,654.97 296.1,659.4 C294.78,663.83 292.17,673.52 290.2,679.1 C288.23,684.68 286.43,688.3 284.3,692.9 C282.17,697.5 280.03,702.75 277.4,706.7 C274.77,710.65 271.62,712.98 268.5,716.6 C265.38,720.22 261.32,725.78 258.7,728.4 C256.08,731.02 254.77,732.47 252.8,732.3 C250.83,732.13 249.2,728.7 246.9,727.4 C244.6,726.1 242.62,725.15 239,724.5 C235.38,723.85 230.13,723.35 225.2,723.5 C220.27,723.65 213.43,724.35 209.4,725.4 C205.37,726.45 203.9,727.28 201,729.8 C198.1,732.32 195.23,736.92 192,740.5 C188.77,744.08 185.08,747.75 181.6,751.3 C178.12,754.85 174.32,758.58 171.1,761.8 C167.88,765.02 165.22,767.38 162.3,770.6 C159.38,773.82 156.52,777.75 153.6,781.1 C150.68,784.45 147.72,788.22 144.8,790.7 C141.88,793.18 139.6,794.97 136.1,796 C132.6,797.03 127.6,797.63 123.8,796.9 C120,796.17 116.52,793.35 113.3,791.6 C110.08,789.85 106.55,788.45 104.5,786.4 C102.45,784.35 102.17,781.42 101,779.3 C99.83,777.18 98.67,774.57 97.5,773.7 C96.33,772.83 95.6,772.87 94,774.1 C92.4,775.33 88.92,779.93 87.9,781.1" fill="none" stroke="#515151" stroke-width="1.9" stroke-linejoin="round" stroke-linecap="round"/>
<path d="M87.9,777.6 C89.5,774.68 94.15,765.93 97.5,760.1 C100.85,754.27 104.5,747.87 108,742.6 C111.5,737.33 114.7,732.45 118.5,728.5 C122.3,724.55 126.42,721.08 130.8,718.9 C135.18,716.72 140.13,716.27 144.8,715.4 C149.47,714.53 154.6,714.33 158.8,713.7 C163,713.07 165.5,712.27 170,711.6 C174.5,710.93 180.8,710.38 185.8,709.7 C190.8,709.02 196.72,708.17 200,707.5 C203.28,706.83 201.3,706.98 205.5,705.7 C209.7,704.42 219.62,701.77 225.2,699.8 C230.78,697.83 235.07,696.37 239,693.9 C242.93,691.43 245.85,687.47 248.8,685 C251.75,682.53 254.4,680.4 256.7,679.1 C259,677.8 260.63,676.87 262.6,677.2 C264.57,677.53 266.85,678.97 268.5,681.1 C270.15,683.23 270.52,687.22 272.5,690 C274.48,692.78 277.45,696 280.4,697.8 C283.35,699.6 287.25,700.63 290.2,700.8 C293.15,700.97 297.12,698.47 298.1,698.8 C299.08,699.13 297.75,700.98 296.1,702.8 C294.45,704.62 291.48,707.9 288.2,709.7 C284.92,711.5 281.32,712.78 276.4,713.6 C271.48,714.42 265.92,714.03 258.7,714.6 C251.48,715.17 241.65,716.5 233.1,717 C224.55,717.5 212.92,717.32 207.4,717.6 C201.88,717.88 202.3,718.33 200,718.7 C197.7,719.07 196.27,719 193.6,719.8 C190.93,720.6 187.75,721.55 184,723.5 C180.25,725.45 175.58,729.2 171.1,731.5 C166.62,733.8 160.6,736.92 157.1,737.3 C153.6,737.68 153.6,735.12 150.1,733.8 C146.6,732.48 140.48,729.98 136.1,729.4 C131.72,728.82 127.32,729.28 123.8,730.3 C120.28,731.32 117.63,733.45 115,735.5 C112.37,737.55 110.92,738.5 108,742.6 C105.08,746.7 100.85,754.27 97.5,760.1 C94.15,765.93 89.5,774.68 87.9,777.6" fill="none" stroke="#F14040" stroke-width="1.9" stroke-linejoin="round" stroke-linecap="round"/>
<path d="M206.5,717 C210.27,716.93 220.07,716.83 229.1,716.6 C238.13,716.37 252.82,716.2 260.7,715.6 C268.58,715 271.82,713.82 276.4,713 C280.98,712.18 284.58,712.08 288.2,710.7 C291.82,709.32 296.45,705.7 298.1,704.7" fill="none" stroke="#1A6FDF" stroke-width="2.2" stroke-linejoin="round" stroke-linecap="round"/>
<rect x="262.5" y="769.2" width="64.4" height="43.6" fill="#fff" stroke="#1a1a1a" stroke-width="1.2"/>
<path d="M262.5,776.8H289.7" stroke="#515151" stroke-width="2.5"/>
<text transform="translate(291.5 779.9) scale(0.87 1)" font-size="13">100mV</text>
<path d="M262.5,791.1H289.7" stroke="#F14040" stroke-width="2.5"/>
<text transform="translate(291.5 794.2) scale(0.87 1)" font-size="13">50mV</text>
<path d="M262.5,805.3H289.7" stroke="#1A6FDF" stroke-width="2.5"/>
<text transform="translate(291.5 808.4) scale(0.87 1)" font-size="13">30mV</text>
<path d="M407,606.5V824.6H678.3" fill="none" stroke="#1a1a1a" stroke-width="1.3"/>
<path d="M407,824.6v2.2M427.87,824.6v4.5M448.74,824.6v2.2M469.61,824.6v4.5M490.48,824.6v2.2M511.35,824.6v4.5M532.22,824.6v2.2M553.08,824.6v4.5M573.95,824.6v2.2M594.82,824.6v4.5M615.69,824.6v2.2M636.56,824.6v4.5M657.43,824.6v2.2M678.3,824.6v4.5M407,824.6h-2.2M407,811.77h-4.5M407,798.94h-2.2M407,786.11h-4.5M407,773.28h-2.2M407,760.45h-4.5M407,747.62h-2.2M407,734.79h-4.5M407,721.96h-2.2M407,709.14h-4.5M407,696.31h-2.2M407,683.48h-4.5M407,670.65h-2.2M407,657.82h-4.5M407,644.99h-2.2M407,632.16h-4.5M407,619.33h-2.2M407,606.5h-4.5" fill="none" stroke="#1a1a1a" stroke-width="1.1"/>
<text transform="translate(427.87 837.9) scale(1.05 1)" text-anchor="middle" font-size="10">0</text>
<text transform="translate(469.61 837.9) scale(1.05 1)" text-anchor="middle" font-size="10">20</text>
<text transform="translate(511.35 837.9) scale(1.05 1)" text-anchor="middle" font-size="10">40</text>
<text transform="translate(553.08 837.9) scale(1.05 1)" text-anchor="middle" font-size="10">60</text>
<text transform="translate(594.82 837.9) scale(1.05 1)" text-anchor="middle" font-size="10">80</text>
<text transform="translate(636.56 837.9) scale(1.05 1)" text-anchor="middle" font-size="10">100</text>
<text transform="translate(678.3 837.9) scale(1.05 1)" text-anchor="middle" font-size="10">120</text>
<text transform="translate(399.8 813.97) scale(0.95 1)" text-anchor="end" font-size="10">-2.5</text>
<text transform="translate(399.8 788.31) scale(0.95 1)" text-anchor="end" font-size="10">-2.0</text>
<text transform="translate(399.8 762.65) scale(0.95 1)" text-anchor="end" font-size="10">-1.5</text>
<text transform="translate(399.8 736.99) scale(0.95 1)" text-anchor="end" font-size="10">-1.0</text>
<text transform="translate(399.8 711.34) scale(0.95 1)" text-anchor="end" font-size="10">-0.5</text>
<text transform="translate(399.8 685.68) scale(0.95 1)" text-anchor="end" font-size="10">0.0</text>
<text transform="translate(399.8 660.02) scale(0.95 1)" text-anchor="end" font-size="10">0.5</text>
<text transform="translate(399.8 634.36) scale(0.95 1)" text-anchor="end" font-size="10">1.0</text>
<text transform="translate(399.8 608.7) scale(0.95 1)" text-anchor="end" font-size="10">1.5</text>
<text x="543" y="855.7" text-anchor="middle" font-size="11.5">Time (s)</text>
<text transform="translate(371.9 709.1) rotate(-90)" text-anchor="middle" font-size="11.5">E (V)</text>
<path d="M427.8,760 C427.83,750 427.75,722.17 428,700 C428.25,677.83 429.08,639.17 429.3,627" fill="none" stroke="#515151" stroke-width="1.9" stroke-linejoin="round" stroke-linecap="round"/>
<path d="M429.3,627 C429.42,639.17 429.8,670.73 430,700 C430.2,729.27 430.42,785.5 430.5,802.6" fill="none" stroke="#515151" stroke-width="1.9" stroke-linejoin="round" stroke-linecap="round"/>
<path d="M428,755 C428.05,744.17 428.03,711.17 428.3,690 C428.57,668.83 429.38,638.33 429.6,628" fill="none" stroke="#F14040" stroke-width="1.9" stroke-linejoin="round" stroke-linecap="round"/>
<path d="M429.6,628 C429.75,640 430.27,670.9 430.5,700 C430.73,729.1 430.92,785.5 431,802.6" fill="none" stroke="#F14040" stroke-width="1.9" stroke-linejoin="round" stroke-linecap="round"/>
<path d="M428.2,750 C428.27,738.33 428.3,700.5 428.6,680 C428.9,659.5 429.77,635.83 430,627" fill="none" stroke="#1A6FDF" stroke-width="1.9" stroke-linejoin="round" stroke-linecap="round"/>
<path d="M430,627 C430.17,639.17 430.67,670.73 431,700 C431.33,729.27 431.83,785.5 432,802.6" fill="none" stroke="#1A6FDF" stroke-width="1.9" stroke-linejoin="round" stroke-linecap="round"/>
<path d="M428.4,745 C428.5,732.5 428.65,689.5 429,670 C429.35,650.5 430.25,635 430.5,628" fill="none" stroke="#37AD6B" stroke-width="1.9" stroke-linejoin="round" stroke-linecap="round"/>
<path d="M430.5,628 C430.67,640 431.17,670.9 431.5,700 C431.83,729.1 432.33,785.5 432.5,802.6" fill="none" stroke="#37AD6B" stroke-width="1.9" stroke-linejoin="round" stroke-linecap="round"/>
<path d="M428.2,750 C428.25,741.67 428.2,713.33 428.5,700 C428.8,686.67 429.23,681.78 430,670 C430.77,658.22 432.58,636.08 433.1,629.3" fill="none" stroke="#B177DE" stroke-width="1.9" stroke-linejoin="round" stroke-linecap="round"/>
<path d="M433.1,629.3 C433.18,642.75 433.32,686.83 433.6,710 C433.88,733.17 434.4,755.1 434.8,768.3 C435.2,781.5 435.52,783.58 436,789.2 C436.48,794.82 437.42,799.87 437.7,802" fill="none" stroke="#B177DE" stroke-width="1.9" stroke-linejoin="round" stroke-linecap="round"/>
<path d="M429,708.5 C429.28,704.62 430.12,691.02 430.7,685.2 C431.28,679.38 431.62,676.5 432.5,673.6 C433.38,670.7 434.75,669.55 436,667.8 C437.25,666.05 438.83,665.23 440,663.1 C441.17,660.97 442.35,657.92 443,655 C443.65,652.08 443.57,648.52 443.9,645.6 C444.23,642.68 444.62,640.12 445,637.5 C445.38,634.88 446,631.17 446.2,629.9" fill="none" stroke="#CC9900" stroke-width="1.9" stroke-linejoin="round" stroke-linecap="round"/>
<path d="M446.2,629.9 C446.25,639.9 446.37,670.72 446.5,689.9 C446.63,709.08 446.62,733.5 447,745 C447.38,756.5 448.22,754.05 448.8,758.9 C449.38,763.75 449.82,769.63 450.5,774.1 C451.18,778.57 452.02,782.22 452.9,785.7 C453.78,789.18 454.55,792.67 455.8,795 C457.05,797.33 458.57,798.62 460.4,799.7 C462.23,800.78 465.73,801.2 466.8,801.5" fill="none" stroke="#CC9900" stroke-width="1.9" stroke-linejoin="round" stroke-linecap="round"/>
<path d="M428.5,715 C429.17,710.43 431.35,693.72 432.5,687.6 C433.65,681.48 434.05,680.53 435.4,678.3 C436.75,676.07 438.17,675.57 440.6,674.2 C443.03,672.83 446.88,671.27 450,670.1 C453.12,668.93 456.4,668.27 459.3,667.2 C462.2,666.13 465.62,664.47 467.4,663.7 C469.18,662.93 468.5,663.6 470,662.6 C471.5,661.6 474.53,659.85 476.4,657.7 C478.27,655.55 479.58,652.77 481.2,649.7 C482.82,646.63 484.83,642.38 486.1,639.3 C487.37,636.22 488.35,632.55 488.8,631.2" fill="none" stroke="#00CBCC" stroke-width="1.9" stroke-linejoin="round" stroke-linecap="round"/>
<path d="M488.8,631.2 C488.83,642.45 488.8,680.67 489,698.7 C489.2,716.73 489.32,728.67 490,739.4 C490.68,750.13 491.7,756.53 493.1,763.1 C494.5,769.67 496.2,774.22 498.4,778.8 C500.6,783.38 503.23,787.53 506.3,790.6 C509.37,793.67 512.43,795.67 516.8,797.2 C521.17,798.73 525.58,799.13 532.5,799.8 C539.42,800.47 554,800.97 558.3,801.2" fill="none" stroke="#00CBCC" stroke-width="1.9" stroke-linejoin="round" stroke-linecap="round"/>
<path d="M427.8,757.8 C427.83,754.83 427.8,746.65 428,740 C428.2,733.35 428.45,724.7 429,717.9 C429.55,711.1 430.62,703.87 431.3,699.2 C431.98,694.53 432.42,692.62 433.1,689.9 C433.78,687.18 434.25,685.03 435.4,682.9 C436.55,680.77 437.97,678.55 440,677.1 C442.03,675.65 444.97,674.98 447.6,674.2 C450.23,673.42 452.88,673.08 455.8,672.4 C458.72,671.72 461.9,670.73 465.1,670.1 C468.3,669.47 472.58,668.97 475,668.6 C477.42,668.23 477.22,668.37 479.6,667.9 C481.98,667.43 486.35,666.55 489.3,665.8 C492.25,665.05 494.9,664.35 497.3,663.4 C499.7,662.45 501.83,661.32 503.7,660.1 C505.57,658.88 506.35,658.37 508.5,656.1 C510.65,653.83 514.18,649.3 516.6,646.5 C519.02,643.7 521,641.72 523,639.3 C525,636.88 527.67,633.22 528.6,632" fill="none" stroke="#7D4E4E" stroke-width="1.9" stroke-linejoin="round" stroke-linecap="round"/>
<path d="M528.6,632 C528.67,643.33 528.78,682.97 529,700 C529.22,717.03 529.08,724.13 529.9,734.2 C530.72,744.27 532.15,753.4 533.9,760.4 C535.65,767.4 537.57,771.6 540.4,776.2 C543.23,780.8 546.52,784.93 550.9,788 C555.28,791.07 560.12,792.98 566.7,794.6 C573.28,796.22 582.08,796.92 590.4,797.7 C598.72,798.48 607.1,798.72 616.6,799.3 C626.1,799.88 642.27,800.88 647.4,801.2" fill="none" stroke="#7D4E4E" stroke-width="1.9" stroke-linejoin="round" stroke-linecap="round"/>
<rect x="623.3" y="598.7" width="48.8" height="93.9" fill="#fff" stroke="#1a1a1a" stroke-width="1.2"/>
<path d="M623.3,604.1H646" stroke="#515151" stroke-width="2"/>
<text transform="translate(647.5 606.7) scale(0.88 1)" font-size="10">50mA</text>
<path d="M623.3,616.3H646" stroke="#F14040" stroke-width="2"/>
<text transform="translate(647.5 618.9) scale(0.88 1)" font-size="10">45</text>
<path d="M623.3,628.1H646" stroke="#1A6FDF" stroke-width="2"/>
<text transform="translate(647.5 630.7) scale(0.88 1)" font-size="10">40</text>
<path d="M623.3,639.7H646" stroke="#37AD6B" stroke-width="2"/>
<text transform="translate(647.5 642.3) scale(0.88 1)" font-size="10">35</text>
<path d="M623.3,651.3H646" stroke="#B177DE" stroke-width="2"/>
<text transform="translate(647.5 653.9) scale(0.88 1)" font-size="10">30</text>
<path d="M623.3,662.8H646" stroke="#CC9900" stroke-width="2"/>
<text transform="translate(647.5 665.4) scale(0.88 1)" font-size="10">25</text>
<path d="M623.3,674.2H646" stroke="#00CBCC" stroke-width="2"/>
<text transform="translate(647.5 676.8) scale(0.88 1)" font-size="10">20</text>
<path d="M623.3,685.5H646" stroke="#7D4E4E" stroke-width="2"/>
<text transform="translate(647.5 688.1) scale(0.88 1)" font-size="10">15</text>
</svg>
</body></html>
